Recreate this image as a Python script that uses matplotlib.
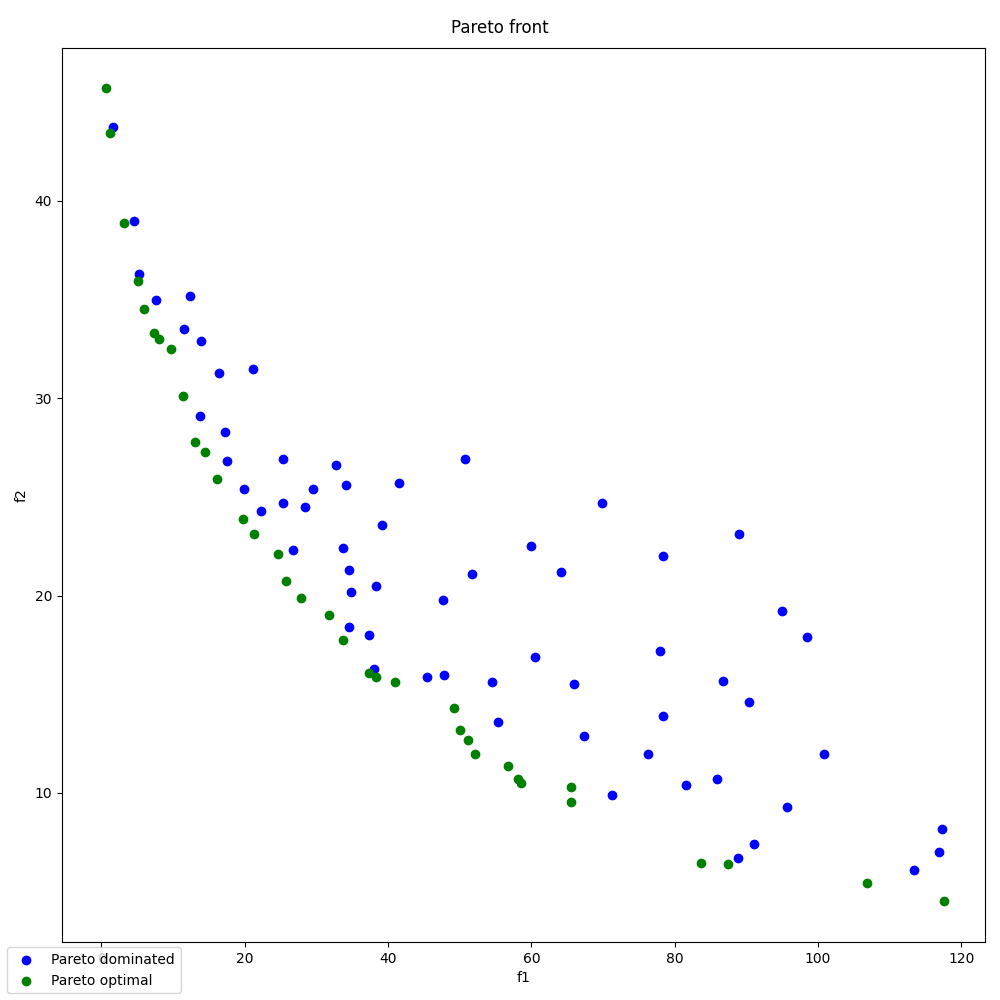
import matplotlib
matplotlib.use("Agg")
import matplotlib.pyplot as plt

dom_f1 = [1.6,4.5,5.2,7.6,12.3,11.5,13.9,16.4,21.1,13.7,17.2,17.5,19.9,25.3,22.2,25.4,29.5,28.4,32.7,34.2,41.5,50.7,39.1,26.8,33.7,34.6,34.8,38.3,47.6,51.7,59.9,64.2,69.9,78.4,89.0,34.5,37.3,38.1,45.4,47.8,54.5,60.5,66.0,77.9,86.7,90.4,95.0,98.5,55.3,67.4,78.3,76.3,71.2,81.6,85.9,100.8,95.7,91.0,88.9,113.4,116.9,117.3]
dom_f2 = [43.75,39.0,36.3,35.0,35.2,33.5,32.9,31.3,31.5,29.1,28.3,26.8,25.4,26.9,24.3,24.7,25.4,24.5,26.6,25.6,25.7,26.9,23.6,22.3,22.4,21.3,20.2,20.5,19.8,21.1,22.5,21.2,24.7,22.0,23.1,18.4,18.0,16.3,15.9,16.0,15.6,16.9,15.5,17.2,15.7,14.6,19.2,17.9,13.6,12.9,13.9,12.0,9.9,10.4,10.7,12.0,9.3,7.4,6.7,6.1,7.0,8.2]
opt_f1 = [0.6,1.2,3.1,5.1,5.9,7.4,8.0,9.7,11.4,13.0,14.4,16.1,19.7,21.3,24.6,25.7,27.9,31.7,33.7,37.4,38.3,40.9,49.2,50.0,51.1,52.1,56.8,58.2,58.5,65.5,65.5,83.7,87.4,106.9,117.6]
opt_f2 = [45.7,43.45,38.9,35.95,34.5,33.3,33.0,32.5,30.1,27.8,27.3,25.9,23.9,23.1,22.1,20.75,19.9,19.0,17.75,16.1,15.9,15.6,14.3,13.2,12.7,12.0,11.35,10.7,10.5,10.3,9.55,6.45,6.4,5.45,4.55]
yticks = [10, 20, 30, 40]

fig = plt.figure(figsize=(10, 10), dpi=100)
ax = fig.add_axes([0.062, 0.058, 0.923, 0.894])
ax.scatter(dom_f1, dom_f2, color="blue", label="Pareto dominated")
ax.scatter(opt_f1, opt_f2, color="green", label="Pareto optimal")
ax.set_xlim(-5.5, 123.3)
ax.set_ylim(2.45, 47.75)
ax.set_yticks(yticks)
ax.set_xlabel("f1")
ax.set_ylabel("f2")
fig.text(0.5, 0.972, "Pareto front", ha="center", va="center", fontsize=12)
fig.legend(loc="lower left", bbox_to_anchor=(0.0, 0.0))
fig.savefig("out.png")
